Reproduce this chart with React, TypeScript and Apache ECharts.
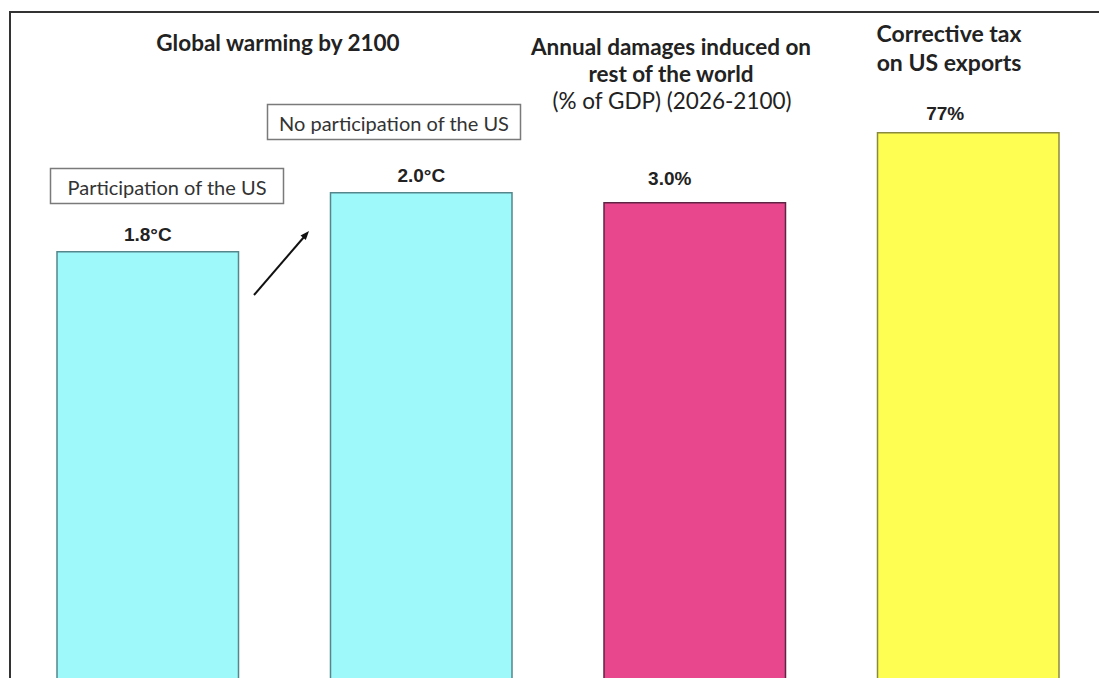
import React, { useEffect, useRef } from "react";
import * as echarts from "echarts";

// ---- data ----
const categories = ["Participation of the US", "No participation of the US", "Annual damages", "Corrective tax"];
const warmingValues = [1.8, 2.0]; // °C, global warming by 2100
const damageValues = [3.0]; // % of GDP, annual damages on rest of the world
const taxValues = [77]; // % corrective tax on US exports

const panelTitles = [
  ["Global warming by 2100"],
  ["Annual damages induced on", "rest of the world"],
  ["Corrective tax", "on US exports"],
];
const damagesSubtitle = "(% of GDP) (2026-2100)";
const boxLabels = ["Participation of the US", "No participation of the US"];

const TITLE_FONT = "Lato, 'Open Sans', sans-serif";
const LABEL_FONT = "'Liberation Sans', Arial, sans-serif";

export default function App() {
  const ref = useRef<HTMLDivElement>(null);

  useEffect(() => {
    if (!ref.current) return;
    const chart = echarts.init(ref.current, null, { renderer: "svg" });

    const warmingData = categories.map((_, i) => (i < warmingValues.length ? warmingValues[i] : "-"));
    const damageData = categories.map((_, i) => (i === 2 ? damageValues[0] : "-"));
    const taxData = categories.map((_, i) => (i === 3 ? taxValues[0] : "-"));

    const labelBase = {
      show: true,
      position: "top",
      fontFamily: LABEL_FONT,
      fontWeight: "bold",
      fontSize: 19,
      color: "#222",
    };

    const titleText = (text: string, x: number, y: number, size: number, bold = true) => ({
      type: "text",
      z: 10,
      style: {
        text,
        x,
        y,
        align: "center",
        verticalAlign: "middle",
        fontFamily: TITLE_FONT,
        fontWeight: bold ? "bold" : "normal",
        fontSize: size,
        fill: "#222",
      },
    });

    const box = (text: string, x: number, y: number, w: number, h: number) => ({
      type: "group",
      z: 10,
      children: [
        {
          type: "rect",
          shape: { x, y, width: w, height: h },
          style: { fill: "#fff", stroke: "#7a7a7a", lineWidth: 1.5 },
        },
        {
          type: "text",
          style: {
            text,
            x: x + w / 2,
            y: y + h / 2 + 1,
            align: "center",
            verticalAlign: "middle",
            fontFamily: TITLE_FONT,
            fontSize: 20,
            fill: "#333",
          },
        },
      ],
    });

    chart.setOption({
      animation: false,
      grid: { left: 11, right: 5, top: 0, bottom: 18, containLabel: false },
      xAxis: {
        type: "category",
        data: categories,
        show: false,
      },
      yAxis: [
        { type: "value", min: 0, max: 2.651, show: false },
        { type: "value", min: 0, max: 4.045, show: false },
        { type: "value", min: 0, max: 92.64, show: false },
      ],
      series: [
        {
          type: "bar",
          yAxisIndex: 0,
          data: warmingData,
          barWidth: 183,
          barGap: "-100%",
          itemStyle: { color: "#9ef9fb", borderColor: "#55868b", borderWidth: 1.5 },
          label: { ...labelBase, distance: 7, formatter: (p: any) => `${Number(p.value).toFixed(1)}°C` },
        },
        {
          type: "bar",
          yAxisIndex: 1,
          data: damageData,
          barWidth: 183,
          barGap: "-100%",
          itemStyle: { color: "#e8478d", borderColor: "#5e2444", borderWidth: 1.5 },
          label: { ...labelBase, distance: 14, offset: [-25, 0], formatter: (p: any) => `${Number(p.value).toFixed(1)}%` },
        },
        {
          type: "bar",
          yAxisIndex: 2,
          data: taxData,
          barWidth: 183,
          barGap: "-100%",
          itemStyle: { color: "#fdfd52", borderColor: "#8a8a3e", borderWidth: 1.5 },
          label: { ...labelBase, distance: 9, offset: [-23, 0], formatter: (p: any) => `${p.value}%` },
        },
      ],
      graphic: [
        {
          type: "rect",
          z: 0,
          silent: true,
          shape: { x: 10, y: 12, width: 1300, height: 1000 },
          style: { fill: "none", stroke: "#333", lineWidth: 2 },
        },
        titleText(panelTitles[0][0], 278, 42, 22.5),
        titleText(panelTitles[1][0], 671, 46, 22.5),
        titleText(panelTitles[1][1], 671, 73, 22.5),
        titleText(damagesSubtitle, 672, 100, 22.5, false),
        titleText(panelTitles[2][0], 949, 33, 23),
        titleText(panelTitles[2][1], 949, 62, 23),
        box(boxLabels[0], 50.5, 168.5, 233, 35),
        box(boxLabels[1], 267.5, 104.5, 253, 35),
        {
          type: "line",
          z: 10,
          shape: { x1: 254, y1: 295, x2: 304, y2: 237 },
          style: { stroke: "#111", lineWidth: 2 },
        },
        {
          type: "polygon",
          z: 10,
          shape: { points: [[309, 231], [305.8, 240.1], [300.5, 235.5]] },
          style: { fill: "#111" },
        },
      ],
    });

    return () => chart.dispose();
  }, []);

  return (
    <div
      ref={ref}
      style={{ position: "fixed", left: 0, top: 0, width: 1110, height: 800, background: "#fff" }}
    />
  );
}
